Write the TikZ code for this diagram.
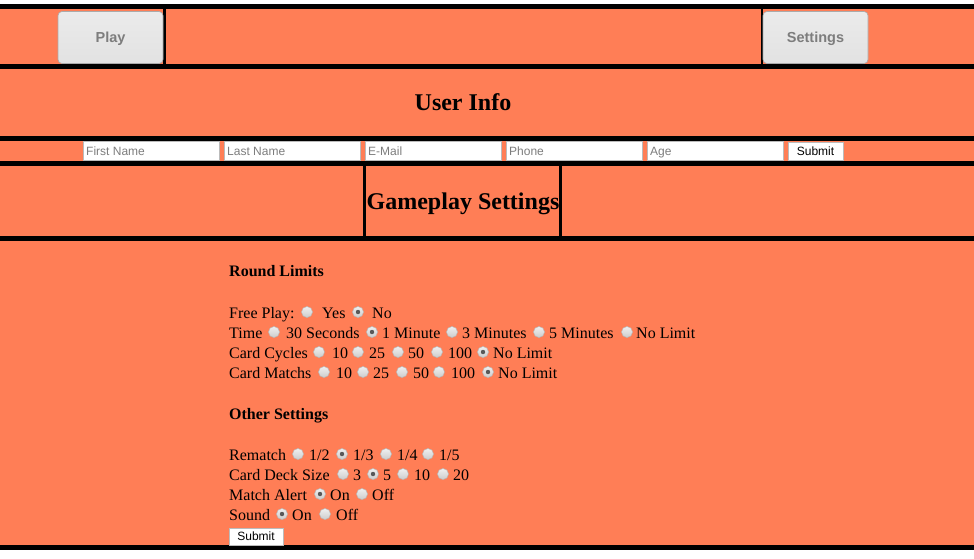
\documentclass[tikz,border=0pt]{standalone}
\usepackage{fontspec}
\setmainfont{Liberation Serif}
\setsansfont{Liberation Sans}
\definecolor{coralbg}{RGB}{255,126,86}
\definecolor{btngray}{RGB}{226,226,226}
\definecolor{btnedge}{RGB}{170,170,170}
\definecolor{phgray}{RGB}{125,125,125}
\tikzset{
  x=1pt, y=-1pt,
  band/.style={fill=coralbg, draw=none},
  rule/.style={fill=black, draw=none},
  navbtn/.style={draw=btnedge, line width=0.6pt, rounded corners=4pt, top color=btngray!70!white, bottom color=btngray, minimum width=105pt, minimum height=52pt, inner sep=0pt, text height=10.5pt, text depth=0pt, font=\sffamily\bfseries\fontsize{14.5}{16}\selectfont, text=phgray},
  inbox/.style={draw=btnedge!80, line width=0.6pt, fill=white, minimum width=136pt, minimum height=19pt, inner sep=0pt},
  ph/.style={anchor=base west, inner sep=0pt, font=\sffamily\fontsize{12}{14}\selectfont, text=phgray},
  subbtn/.style={draw=btnedge!80, line width=0.6pt, fill=white, inner sep=0pt, font=\sffamily\fontsize{12}{14}\selectfont, text=black},
  head/.style={inner sep=0pt, anchor=base, font=\bfseries\fontsize{24}{28}\selectfont},
  sechead/.style={anchor=base west, inner sep=0pt, font=\bfseries\fontsize{16}{19}\selectfont},
  txt/.style={anchor=base west, inner sep=0pt, font=\fontsize{16}{19}\selectfont},
  radio/.style={circle, minimum size=11pt, inner sep=0pt, draw=black!28, line width=0.5pt, top color=black!6, bottom color=black!20},
  radiosel/.style={radio, path picture={\fill[black!65] (path picture bounding box.center) circle (2.2pt);}}
}
\begin{document}
\begin{tikzpicture}
\useasboundingbox (0,0) rectangle (974,558);
\fill[white] (0,0) rectangle (974,558);
% bands
\fill[band] (0,4) rectangle (974,550);
\fill[rule] (0,4) rectangle (974,9);
\fill[rule] (0,64) rectangle (974,69);
\fill[rule] (0,136) rectangle (974,141);
\fill[rule] (0,161) rectangle (974,166);
\fill[rule] (0,236) rectangle (974,241);
\fill[rule] (0,545) rectangle (974,550);
% nav buttons
\fill[rule] (163,9) rectangle (165.5,64);
\fill[rule] (760.5,9) rectangle (763,64);
\node[navbtn] (play) at (110.5,37.5) {Play};
\node[navbtn] (settings) at (815.5,37.5) {Settings};
% user info
\node[head] (userinfo) at (463,110) {User Info};
% inputs
\node[inbox] (first) at (151,151) {};
\node[inbox] (last) at (292,151) {};
\node[inbox] (email) at (433,151) {};
\node[inbox] (phone) at (574,151) {};
\node[inbox] (age) at (715,151) {};
\node[ph] (firstt) at (86,155.5) {First Name};
\node[ph] (lastt) at (227,155.5) {Last Name};
\node[ph] (emailt) at (368,155.5) {E-Mail};
\node[ph] (phonet) at (509,155.5) {Phone};
\node[ph] (aget) at (650,155.5) {Age};
\node[subbtn, minimum width=55pt, minimum height=18pt] (submit1) at (815.5,151) {Submit};
% gameplay header
\fill[rule] (363,166) rectangle (366,236);
\fill[rule] (559,166) rectangle (562,236);
\node[head] (gameplay) at (463,209) {Gameplay Settings};
% round limits
\node[sechead] (roundlimits) at (229,276) {Round Limits};
\node[txt] (fp) at (229,318) {Free Play:};
\node[radio] (fp1) at (307,312) {};
\node[txt] (fpyes) at (322,318) {Yes};
\node[radiosel] (fp2) at (358,312) {};
\node[txt] (fpno) at (372,318) {No};

\node[txt] (time) at (229,338) {Time};
\node[radio] (t1) at (274,332) {};
\node[txt] (t1t) at (286,338) {30 Seconds};
\node[radiosel] (t2) at (372,332) {};
\node[txt] (t2t) at (382,338) {1 Minute};
\node[radio] (t3) at (452,332) {};
\node[txt] (t3t) at (462,338) {3 Minutes};
\node[radio] (t4) at (539,332) {};
\node[txt] (t4t) at (549,338) {5 Minutes};
\node[radio] (t5) at (627,332) {};
\node[txt] (t5t) at (636,338) {No Limit};

\node[txt] (cc) at (229,358) {Card Cycles};
\node[radio] (cc1) at (319,352) {};
\node[txt] (cc1t) at (332,358) {10};
\node[radio] (cc2) at (358,352) {};
\node[txt] (cc2t) at (369,358) {25};
\node[radio] (cc3) at (398,352) {};
\node[txt] (cc3t) at (408,358) {50};
\node[radio] (cc4) at (437,352) {};
\node[txt] (cc4t) at (448,358) {100};
\node[radiosel] (cc5) at (483,352) {};
\node[txt] (cc5t) at (493,358) {No Limit};

\node[txt] (cm) at (229,378) {Card Matchs};
\node[radio] (cm1) at (324,372) {};
\node[txt] (cm1t) at (336,378) {10};
\node[radio] (cm2) at (363,372) {};
\node[txt] (cm2t) at (373,378) {25};
\node[radio] (cm3) at (402,372) {};
\node[txt] (cm3t) at (413,378) {50};
\node[radio] (cm4) at (439,372) {};
\node[txt] (cm4t) at (451,378) {100};
\node[radiosel] (cm5) at (488,372) {};
\node[txt] (cm5t) at (498,378) {No Limit};
% other settings
\node[sechead] (other) at (229,419) {Other Settings};
\node[txt] (rm) at (229,460) {Rematch};
\node[radio] (rm1) at (298,454) {};
\node[txt] (rm1t) at (309,460) {1/2};
\node[radiosel] (rm2) at (342,454) {};
\node[txt] (rm2t) at (353,460) {1/3};
\node[radio] (rm3) at (386,454) {};
\node[txt] (rm3t) at (397,460) {1/4};
\node[radio] (rm4) at (428,454) {};
\node[txt] (rm4t) at (439,460) {1/5};

\node[txt] (cd) at (229,480) {Card Deck Size};
\node[radio] (cd1) at (343,474) {};
\node[txt] (cd1t) at (353,480) {3};
\node[radiosel] (cd2) at (373,474) {};
\node[txt] (cd2t) at (383,480) {5};
\node[radio] (cd3) at (403,474) {};
\node[txt] (cd3t) at (414,480) {10};
\node[radio] (cd4) at (443,474) {};
\node[txt] (cd4t) at (453,480) {20};

\node[txt] (ma) at (229,500) {Match Alert};
\node[radiosel] (ma1) at (320,494) {};
\node[txt] (ma1t) at (330,500) {On};
\node[radio] (ma2) at (362,494) {};
\node[txt] (ma2t) at (372,500) {Off};

\node[txt] (sd) at (229,520) {Sound};
\node[radiosel] (sd1) at (282,514) {};
\node[txt] (sd1t) at (292,520) {On};
\node[radio] (sd2) at (325,514) {};
\node[txt] (sd2t) at (336,520) {Off};

\node[subbtn, minimum width=54pt, minimum height=17pt] (submit2) at (256,536.5) {Submit};
\end{tikzpicture}
\end{document}
